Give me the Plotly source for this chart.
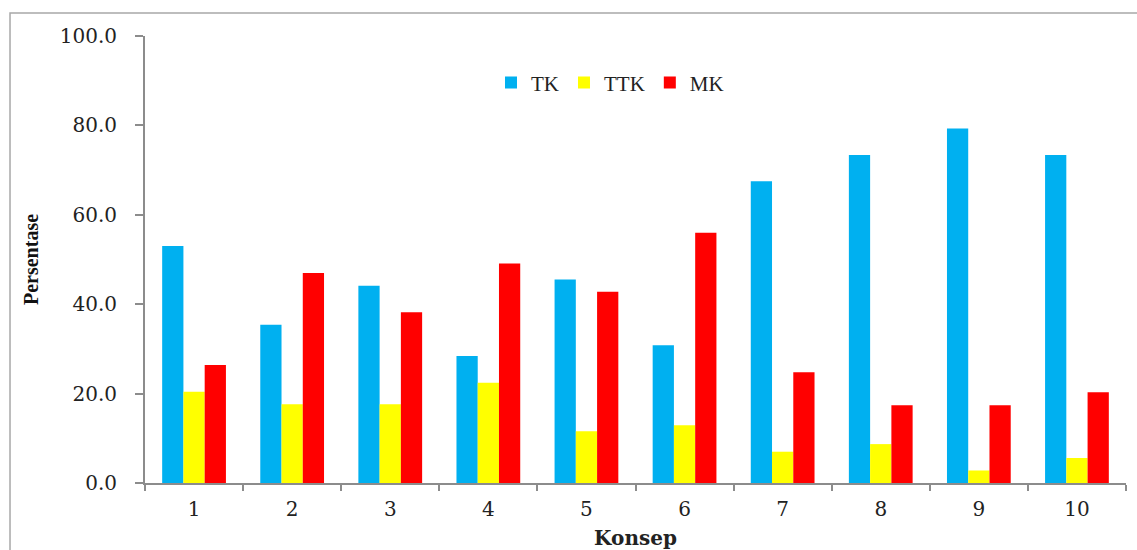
import plotly.graph_objects as go

categories = ["1", "2", "3", "4", "5", "6", "7", "8", "9", "10"]
tk = [53.0, 35.4, 44.1, 28.4, 45.5, 30.8, 67.5, 73.4, 79.3, 73.4]
ttk = [20.4, 17.6, 17.6, 22.4, 11.6, 12.9, 7.0, 8.7, 2.8, 5.6]
mk = [26.4, 47.0, 38.2, 49.1, 42.8, 56.0, 24.8, 17.4, 17.4, 20.3]
y_ticks = [0, 20, 40, 60, 80, 100]

tick_family = "DejaVu Serif, serif"
serif_family = "Liberation Serif, Times New Roman, serif"
axis_col = "#8c8c8c"

fig = go.Figure()
fig.add_trace(go.Bar(name="TK", x=categories, y=tk, marker=dict(color="#00B0F0", line=dict(width=0))))
fig.add_trace(go.Bar(name="TTK", x=categories, y=ttk, marker=dict(color="#FFFF00", line=dict(width=0))))
fig.add_trace(go.Bar(name="MK", x=categories, y=mk, marker=dict(color="#FF0000", line=dict(width=0))))

fig.update_layout(
    width=1137, height=550,
    margin=dict(l=145, r=11, t=36, b=67),
    paper_bgcolor="white", plot_bgcolor="white",
    barmode="group", bargap=0.35, bargroupgap=0,
    font=dict(family=tick_family, size=17, color="#222"),
    legend=dict(orientation="h", x=0.474, y=0.895, xanchor="center", yanchor="middle",
                font=dict(family=serif_family, size=21, color="#222"), itemwidth=30, tracegroupgap=0,
                bgcolor="rgba(0,0,0,0)"),
    xaxis=dict(
        type="category", range=[-0.5, 9.5], automargin=False,
        showline=True, linecolor=axis_col, linewidth=2,
        ticks="outside", tickson="boundaries", ticklen=6, tickcolor=axis_col, tickwidth=2,
        showgrid=False,
        tickfont=dict(family=tick_family, size=20, color="#222"),
        ticklabelstandoff=7,
        title=dict(text="<b>Konsep</b>", font=dict(family=tick_family, size=20, color="#222"), standoff=13),
    ),
    yaxis=dict(
        range=[0, 100], tickvals=y_ticks, tickformat=".1f", automargin=False,
        showline=True, linecolor=axis_col, linewidth=2,
        ticks="outside", ticklen=8, tickcolor=axis_col, tickwidth=2,
        showgrid=False, zeroline=False,
        tickfont=dict(family=tick_family, size=20, color="#222"),
        ticklabelstandoff=14,
        title=dict(text="<b>Persentase</b>", font=dict(family=serif_family, size=20, color="#111"), standoff=16),
    ),
    shapes=[dict(type="rect", xref="paper", yref="paper",
                 x0=-0.1376, x1=1.2, y0=-0.3, y1=1.0515,
                 line=dict(color="#a8a8a8", width=1.5), fillcolor="rgba(0,0,0,0)", layer="below")],
)

fig.write_html("out.html", config={"displayModeBar": False},
               post_script="document.body.style.margin='0';document.body.style.padding='0';")
